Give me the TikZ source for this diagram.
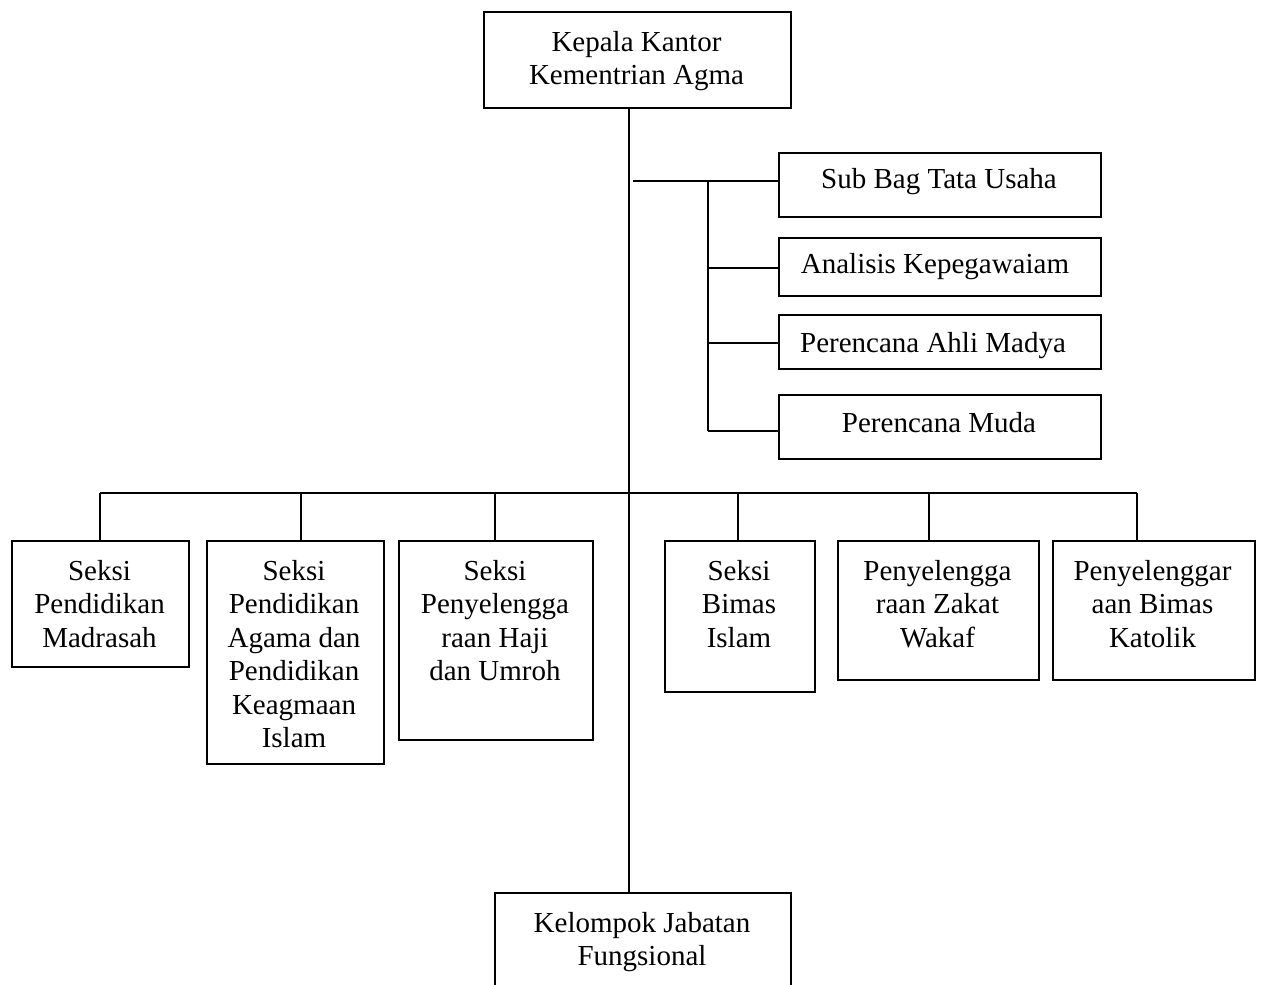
\documentclass[tikz,border=0pt]{standalone}
\usepackage{fontspec}
\setmainfont{Liberation Serif}
\begin{document}
\begin{tikzpicture}[x=1pt,y=-1pt,
  box/.style={draw,line width=1.5pt,rectangle,inner sep=0pt,anchor=north west},
  lbl/.style={inner sep=0pt,align=center,font=\fontsize{29}{33.5}\selectfont},
  conn/.style={line width=1.5pt}]
\useasboundingbox (0,0) rectangle (1264,985);
\clip (0,0) rectangle (1264,985);
% top box
\node[box,minimum width=307pt,minimum height=96pt] (top) at (483,11) {};
\node[lbl,anchor=north] (toplbl) at (636.5,31) {Kepala Kantor\\Kementrian Agma};
% right column
\node[box,minimum width=322pt,minimum height=64pt] (r1) at (778,152) {};
\node[box,minimum width=322pt,minimum height=58pt] (r2) at (778,237) {};
\node[box,minimum width=322pt,minimum height=54pt] (r3) at (778,314) {};
\node[box,minimum width=322pt,minimum height=64pt] (r4) at (778,394) {};
\node[lbl,anchor=base] (r1l) at (939,188) {Sub Bag Tata Usaha};
\node[lbl,anchor=base] (r2l) at (935,273) {Analisis Kepegawaiam};
\node[lbl,anchor=base] (r3l) at (933,352) {Perencana Ahli Madya};
\node[lbl,anchor=base] (r4l) at (939,432) {Perencana Muda};
% bottom row
\node[box,minimum width=177pt,minimum height=126pt] (b1) at (11,540) {};
\node[box,minimum width=177pt,minimum height=223pt] (b2) at (206,540) {};
\node[box,minimum width=194pt,minimum height=199pt] (b3) at (398,540) {};
\node[box,minimum width=150pt,minimum height=151pt] (b4) at (664,540) {};
\node[box,minimum width=201pt,minimum height=139pt] (b5) at (837,540) {};
\node[box,minimum width=202pt,minimum height=139pt] (b6) at (1052,540) {};
\node[lbl,anchor=north] (b1l) at (99.5,560) {Seksi\\Pendidikan\\Madrasah};
\node[lbl,anchor=north] (b2l) at (294,560) {Seksi\\Pendidikan\\Agama dan\\Pendidikan\\Keagmaan\\Islam};
\node[lbl,anchor=north] (b3l) at (495,560) {Seksi\\Penyelengga\\raan Haji\\dan Umroh};
\node[lbl,anchor=north] (b4l) at (739,560) {Seksi\\Bimas\\Islam};
\node[lbl,anchor=north] (b5l) at (937.5,560) {Penyelengga\\raan Zakat\\Wakaf};
\node[lbl,anchor=north] (b6l) at (1152.5,560) {Penyelenggar\\aan Bimas\\Katolik};
% bottom box
\node[box,minimum width=296pt,minimum height=110pt] (kjf) at (494,892) {};
\node[lbl,anchor=north] (kjfl) at (642,912) {Kelompok Jabatan\\Fungsional};
% coordinates
\coordinate (spine) at (629,500);
\coordinate (hstart) at (633,181);
\coordinate (branch) at (708,181);
\coordinate (bend) at (708,431);
\coordinate (y2) at (708,268);
\coordinate (y3) at (708,343);
\coordinate (busL) at (100,493);
\coordinate (busR) at (1137,493);
\coordinate (d1) at (100,493);
\coordinate (d2) at (301,493);
\coordinate (d3) at (495,493);
\coordinate (d4) at (738,493);
\coordinate (d5) at (929,493);
\coordinate (d6) at (1137,493);
% connectors
\draw[conn] (top.south -| spine) -- (kjf.north -| spine);
\draw[conn] (hstart) -- (hstart -| r1.west);
\draw[conn] (branch) -- (bend);
\draw[conn] (y2) -- (y2 -| r2.west);
\draw[conn] (y3) -- (y3 -| r3.west);
\draw[conn] (bend) -- (bend -| r4.west);
\draw[conn] (busL) -- (busR);
\draw[conn] (d1) -- (d1 |- b1.north);
\draw[conn] (d2) -- (d2 |- b2.north);
\draw[conn] (d3) -- (d3 |- b3.north);
\draw[conn] (d4) -- (d4 |- b4.north);
\draw[conn] (d5) -- (d5 |- b5.north);
\draw[conn] (d6) -- (d6 |- b6.north);
\end{tikzpicture}
\end{document}
